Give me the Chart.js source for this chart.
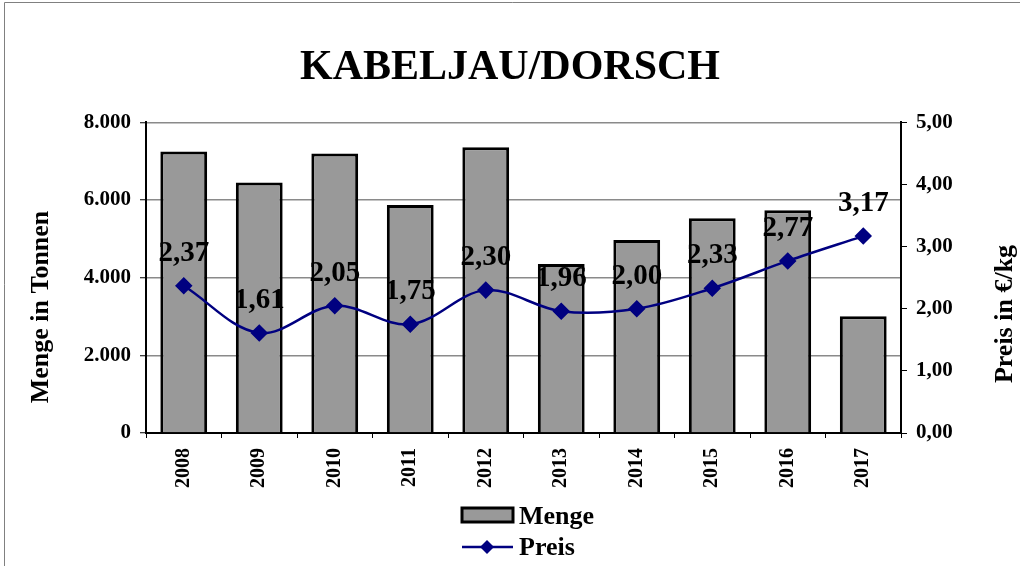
<!DOCTYPE html>
<html>
<head>
<meta charset="utf-8">
<script src="https://cdn.jsdelivr.net/npm/chart.js@4/dist/chart.umd.min.js"></script>
<style>
  body { margin: 0; background: #fff; }
  canvas { display: block; }
</style>
</head>
<body>
<canvas id="kabeljauChart" width="1020" height="566"></canvas>
<script>
// Daten
const jahre = ['2008', '2009', '2010', '2011', '2012', '2013', '2014', '2015', '2016', '2017'];
const menge = [7250, 6450, 7200, 5870, 7360, 4350, 4970, 5530, 5740, 3010];
const preis = [2.37, 1.61, 2.05, 1.75, 2.30, 1.96, 2.00, 2.33, 2.77, 3.17];
const mengeTicks = [0, 2000, 4000, 6000, 8000];
const preisTicks = [0, 1, 2, 3, 4, 5];

const SERIF = "'Liberation Serif', 'Times New Roman', serif";

function formatMenge(v) {
    return String(v).replace(/\B(?=(\d{3})+(?!\d))/g, '.');
}
function formatPreis(v) {
    return v.toFixed(2).replace('.', ',');
}

// Rahmen, Achsentitel, Werte und Legende selbst zeichnen
const extrasPlugin = {
    id: 'extras',
    beforeDraw(chart) {
        const ctx = chart.ctx;
        ctx.save();
        ctx.strokeStyle = '#808080';
        ctx.lineWidth = 1;
        ctx.beginPath();
        ctx.moveTo(4.5, chart.height);
        ctx.lineTo(4.5, 2.5);
        ctx.lineTo(chart.width, 2.5);
        ctx.stroke();
        ctx.restore();
    },
    afterDatasetsDraw(chart) {
        const ctx = chart.ctx;
        ctx.save();
        // Preis-Werte über den Punkten
        const meta = chart.getDatasetMeta(1);
        ctx.font = 'bold 29px ' + SERIF;
        ctx.fillStyle = '#000';
        ctx.textAlign = 'center';
        ctx.textBaseline = 'alphabetic';
        meta.data.forEach((pt, i) => {
            ctx.fillText(formatPreis(preis[i]), pt.x, pt.y - 25);
        });

        // Achsentitel
        ctx.font = 'bold 26px ' + SERIF;
        ctx.textBaseline = 'middle';
        ctx.save();
        ctx.translate(41, 307);
        ctx.rotate(-Math.PI / 2);
        ctx.fillText('Menge in Tonnen', 0, 0);
        ctx.restore();
        ctx.save();
        ctx.translate(1005, 314);
        ctx.rotate(-Math.PI / 2);
        ctx.fillText('Preis in €/kg', 0, 0);
        ctx.restore();

        // Legende
        const ds = chart.data.datasets;
        ctx.font = 'bold 26px ' + SERIF;
        ctx.textAlign = 'left';
        ctx.textBaseline = 'alphabetic';
        // Menge
        ctx.fillStyle = ds[0].backgroundColor;
        ctx.fillRect(462, 508, 51, 14);
        ctx.strokeStyle = ds[0].borderColor;
        ctx.lineWidth = 3;
        ctx.strokeRect(462, 508, 51, 14);
        ctx.fillStyle = '#000';
        ctx.fillText(ds[0].label, 519, 524);
        // Preis
        ctx.strokeStyle = ds[1].borderColor;
        ctx.lineWidth = 2.5;
        ctx.beginPath();
        ctx.moveTo(462, 547);
        ctx.lineTo(513, 547);
        ctx.stroke();
        ctx.fillStyle = ds[1].pointBackgroundColor;
        ctx.beginPath();
        ctx.moveTo(480, 547);
        ctx.lineTo(487, 540);
        ctx.lineTo(494, 547);
        ctx.lineTo(487, 554);
        ctx.closePath();
        ctx.fill();
        ctx.fillStyle = '#000';
        ctx.fillText(ds[1].label, 519, 555);
        ctx.restore();
    }
};

const ctx = document.getElementById('kabeljauChart').getContext('2d');

new Chart(ctx, {
    data: {
        labels: jahre,
        datasets: [{
            type: 'bar',
            label: 'Menge',
            data: menge,
            yAxisID: 'y',
            backgroundColor: '#999999',
            borderColor: '#000000',
            borderWidth: 3,
            categoryPercentage: 1.0,
            barPercentage: 0.62,
            order: 2
        },
        {
            type: 'line',
            label: 'Preis',
            data: preis,
            yAxisID: 'y1',
            borderColor: '#000080',
            backgroundColor: '#000080',
            pointBackgroundColor: '#000080',
            pointBorderColor: '#000080',
            borderWidth: 2.5,
            pointStyle: 'rectRot',
            pointRadius: 7,
            tension: 0.35,
            fill: false,
            order: 1
        }]
    },
    options: {
        responsive: false,
        animation: false,
        devicePixelRatio: 1,
        layout: {
            padding: { left: 0, right: 0, top: 0, bottom: 73 }
        },
        plugins: {
            legend: { display: false },
            tooltip: { enabled: false },
            title: {
                display: true,
                text: 'KABELJAU/DORSCH',
                color: '#000',
                font: { family: SERIF, size: 42, weight: 'bold' },
                padding: { top: 43, bottom: 29 }
            }
        },
        scales: {
            x: {
                offset: true,
                grid: {
                    offset: true,
                    drawOnChartArea: false,
                    tickLength: 5,
                    tickColor: '#000',
                    tickWidth: 1
                },
                border: { color: '#000', width: 2 },
                ticks: {
                    color: '#000',
                    font: { family: SERIF, size: 20, weight: 'bold' },
                    minRotation: 90,
                    maxRotation: 90,
                    padding: 10
                },
                afterFit(scale) { scale.height = 60; }
            },
            y: {
                position: 'left',
                min: 0,
                max: 8000,
                afterBuildTicks(scale) { scale.ticks = mengeTicks.map(v => ({ value: v })); },
                grid: {
                    color: '#8a8a8a',
                    lineWidth: 1.5,
                    tickLength: 6,
                    tickColor: '#000',
                    tickWidth: 1
                },
                border: { color: '#000', width: 2 },
                ticks: {
                    color: '#000',
                    font: { family: SERIF, size: 21, weight: 'bold' },
                    padding: 9,
                    callback: v => formatMenge(v)
                },
                afterFit(scale) { scale.width = 146; }
            },
            y1: {
                position: 'right',
                min: 0,
                max: 5,
                afterBuildTicks(scale) { scale.ticks = preisTicks.map(v => ({ value: v })); },
                grid: {
                    drawOnChartArea: false,
                    tickLength: 6,
                    tickColor: '#000',
                    tickWidth: 1
                },
                border: { color: '#000', width: 2 },
                ticks: {
                    color: '#000',
                    font: { family: SERIF, size: 21, weight: 'bold' },
                    padding: 9,
                    callback: v => formatPreis(v)
                },
                afterFit(scale) { scale.width = 119; }
            }
        }
    },
    plugins: [extrasPlugin]
});
</script>
</body>
</html>
